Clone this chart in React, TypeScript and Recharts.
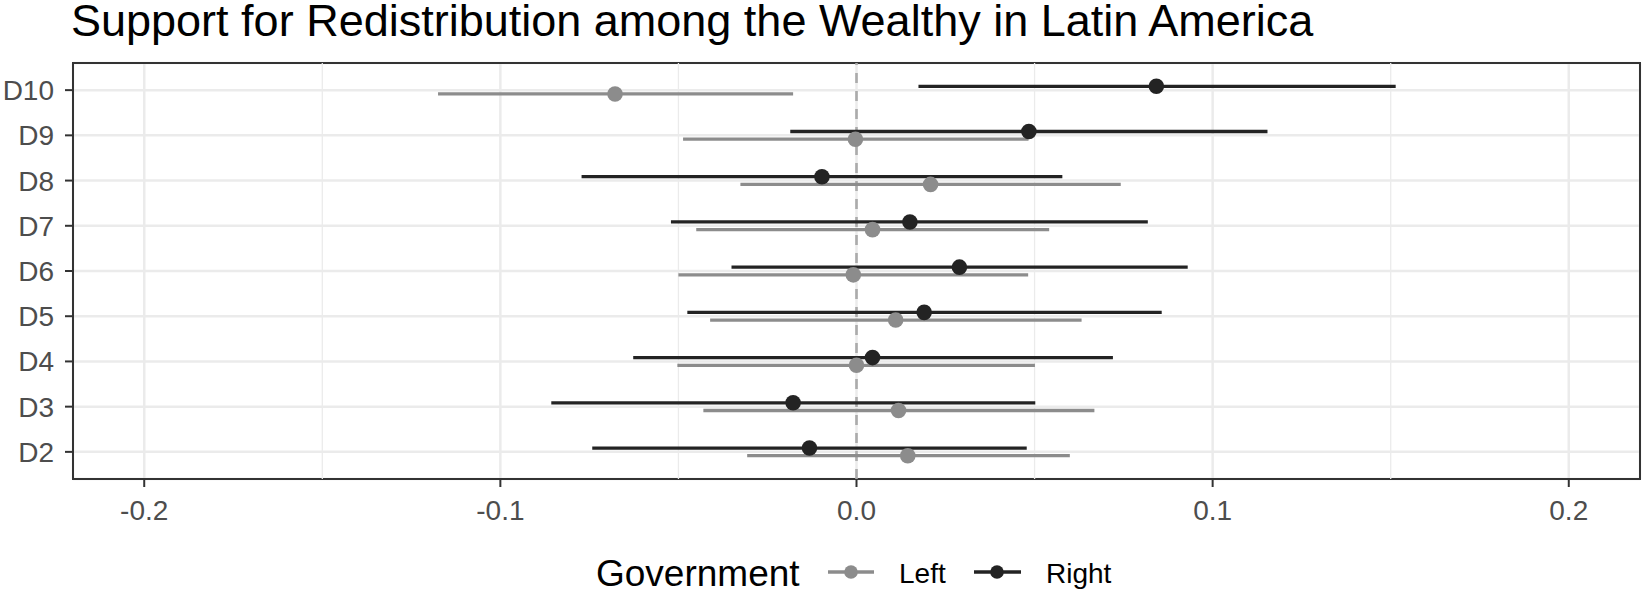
import {
  CartesianGrid,
  ErrorBar,
  ReferenceArea,
  ReferenceLine,
  Scatter,
  ScatterChart,
  XAxis,
  YAxis,
} from "recharts";

const deciles = ["D2", "D3", "D4", "D5", "D6", "D7", "D8", "D9", "D10"];

const rightEst = [-0.0132, -0.0178, 0.0045, 0.019, 0.0289, 0.015, -0.0097, 0.0484, 0.0842];
const rightLo = [-0.0742, -0.0857, -0.0627, -0.0475, -0.0351, -0.0521, -0.0772, -0.0186, 0.0174];
const rightHi = [0.0478, 0.0502, 0.072, 0.0857, 0.093, 0.0818, 0.0578, 0.1154, 0.1514];

const leftEst = [0.0144, 0.0118, 0.0, 0.011, -0.0009, 0.0045, 0.0208, -0.0003, -0.0678];
const leftLo = [-0.0307, -0.043, -0.0503, -0.0411, -0.05, -0.045, -0.0326, -0.0487, -0.1175];
const leftHi = [0.0599, 0.0668, 0.0501, 0.0632, 0.0482, 0.0541, 0.0742, 0.0483, -0.0178];

const xTicks = [-0.2, -0.1, 0, 0.1, 0.2];
const xMinor = [-0.15, -0.05, 0.05, 0.15];

const LEFT_COL = "#8c8c8c";
const RIGHT_COL = "#232323";
const FONT = "'Liberation Sans', Arial, sans-serif";
const DODGE = 0.085;

const toRows = (est: number[], lo: number[], hi: number[], shift: number) =>
  est.map((v, i) => ({ x: v, y: i + shift, err: [v - lo[i], hi[i] - v] }));

const leftRows = toRows(leftEst, leftLo, leftHi, -DODGE);
const rightRows = toRows(rightEst, rightLo, rightHi, DODGE);

const dot = (fill: string) => (p: any) => <circle cx={p.cx} cy={p.cy} r={7.8} fill={fill} />;

export default function App() {
  const tick = { fontSize: 28, fill: "#4d4d4d", fontFamily: FONT };
  return (
    <div style={{ position: "absolute", left: 0, top: 0, width: 1643, height: 593, background: "#fff" }}>
      <ScatterChart width={1643} height={593} margin={{ top: 63, right: 3, bottom: 74, left: 0 }}>
        <CartesianGrid stroke="#ebebeb" strokeWidth={2.5} />
        {xMinor.map((v) => (
          <ReferenceLine key={v} x={v} stroke="#ebebeb" strokeWidth={1.3} />
        ))}
        <XAxis
          type="number"
          dataKey="x"
          domain={[-0.22, 0.22]}
          ticks={xTicks}
          allowDataOverflow
          tickFormatter={(v: number) => v.toFixed(1)}
          axisLine={false}
          tickLine={{ stroke: "#333333", strokeWidth: 2 }}
          tickSize={8}
          tickMargin={13}
          height={40}
          tick={tick}
        />
        <YAxis
          type="number"
          dataKey="y"
          domain={[-0.6, 8.6]}
          ticks={deciles.map((_, i) => i)}
          allowDataOverflow
          tickFormatter={(i: number) => deciles[i] ?? ""}
          axisLine={false}
          tickLine={{ stroke: "#333333", strokeWidth: 2 }}
          tickSize={8}
          tickMargin={11}
          width={73}
          tick={tick}
        />
        <ReferenceLine x={0} stroke="#ababab" strokeWidth={2.6} strokeDasharray="10 8" />
        <Scatter data={leftRows} fill={LEFT_COL} shape={dot(LEFT_COL)} isAnimationActive={false}>
          <ErrorBar
            dataKey="err"
            direction="x"
            width={0}
            stroke={LEFT_COL}
            strokeWidth={3.3}
            isAnimationActive={false}
          />
        </Scatter>
        <Scatter data={rightRows} fill={RIGHT_COL} shape={dot(RIGHT_COL)} isAnimationActive={false}>
          <ErrorBar
            dataKey="err"
            direction="x"
            width={0}
            stroke={RIGHT_COL}
            strokeWidth={3.3}
            isAnimationActive={false}
          />
        </Scatter>
        <ReferenceArea
          x1={-0.22}
          x2={0.22}
          y1={-0.6}
          y2={8.6}
          fill="none"
          fillOpacity={0}
          stroke="#333333"
          strokeWidth={2}
        />
      </ScatterChart>
      <svg
        width={1643}
        height={593}
        style={{ position: "absolute", left: 0, top: 0, pointerEvents: "none" }}
        fontFamily={FONT}
      >
        <text x={71} y={36} fontSize={45} fill="#000">
          Support for Redistribution among the Wealthy in Latin America
        </text>
        <text x={596} y={586} fontSize={37} fill="#000">
          Government
        </text>
        <line x1={828} x2={874} y1={572} y2={572} stroke={LEFT_COL} strokeWidth={3.3} />
        <circle cx={851} cy={572} r={6.8} fill={LEFT_COL} />
        <text x={899} y={583} fontSize={28} fill="#000">
          Left
        </text>
        <line x1={974} x2={1021} y1={572} y2={572} stroke={RIGHT_COL} strokeWidth={3.3} />
        <circle cx={997} cy={572} r={6.8} fill={RIGHT_COL} />
        <text x={1046} y={583} fontSize={28} fill="#000">
          Right
        </text>
      </svg>
    </div>
  );
}
